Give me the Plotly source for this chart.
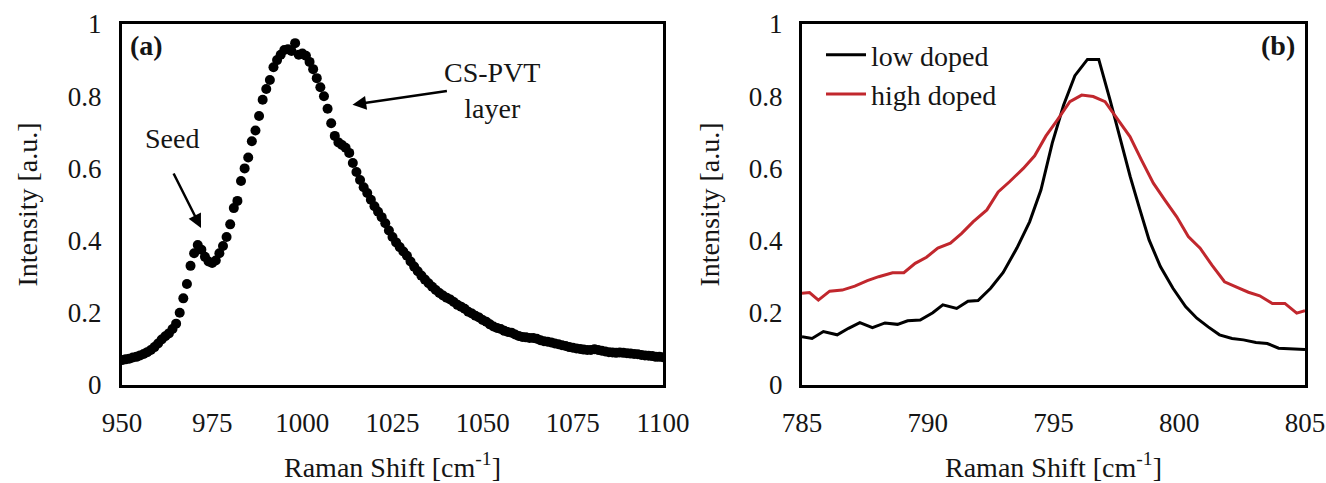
import plotly.graph_objects as go

# ---------------- data: panel (a) ----------------
shift_a = list(range(950, 1101))
intensity_a = [
    0.069, 0.071, 0.073, 0.076, 0.078, 0.082, 0.086, 0.091, 0.097, 0.105,
    0.115, 0.126, 0.135, 0.143, 0.155, 0.170, 0.200, 0.240, 0.280, 0.330,
    0.365, 0.388, 0.375, 0.355, 0.342, 0.338, 0.345, 0.365, 0.385, 0.410,
    0.445, 0.490, 0.510, 0.565, 0.600, 0.630, 0.675, 0.705, 0.745, 0.790,
    0.820, 0.845, 0.880, 0.900, 0.915, 0.928, 0.930, 0.925, 0.947, 0.915,
    0.918, 0.912, 0.895, 0.875, 0.850, 0.825, 0.800, 0.765, 0.725, 0.690,
    0.672, 0.665, 0.657, 0.643, 0.615, 0.590, 0.568, 0.548, 0.532, 0.513,
    0.495, 0.480, 0.465, 0.448, 0.428, 0.410, 0.395, 0.382, 0.370, 0.358,
    0.342, 0.328, 0.315, 0.303, 0.292, 0.282, 0.272, 0.263, 0.255, 0.248,
    0.242, 0.237, 0.230, 0.222, 0.217, 0.211, 0.203, 0.198, 0.192, 0.187,
    0.180, 0.175, 0.168, 0.162, 0.158, 0.155, 0.150, 0.147, 0.145, 0.140,
    0.136, 0.133, 0.132, 0.130, 0.130, 0.128, 0.124, 0.121, 0.120, 0.118,
    0.115, 0.113, 0.110, 0.108, 0.105, 0.103, 0.101, 0.100, 0.098, 0.097,
    0.097, 0.099, 0.097, 0.095, 0.093, 0.091, 0.090, 0.089, 0.090, 0.089,
    0.088, 0.087, 0.086, 0.085, 0.083, 0.082, 0.081, 0.080, 0.078, 0.078,
    0.077,
]

# ---------------- data: panel (b) ----------------
shift_low = [785.0, 785.4, 785.85, 786.4, 786.85, 787.3, 787.8, 788.3, 788.8, 789.2,
             789.7, 790.2, 790.6, 791.15, 791.6, 792.0, 792.5, 793.0, 793.55, 794.05,
             794.5, 794.95, 795.4, 795.85, 796.35, 796.8, 797.25, 797.65, 798.05, 798.4,
             798.8, 799.25, 799.75, 800.25, 800.7, 801.15, 801.6, 802.1, 802.55, 803.05,
             803.5, 803.95, 804.4, 805.0]
low_doped = [0.134, 0.129, 0.148, 0.139, 0.157, 0.173, 0.159, 0.172, 0.168, 0.178,
             0.180, 0.200, 0.222, 0.212, 0.232, 0.234, 0.268, 0.312, 0.380, 0.452,
             0.540, 0.670, 0.775, 0.857, 0.902, 0.902, 0.789, 0.679, 0.577, 0.494,
             0.402, 0.328, 0.268, 0.217, 0.185, 0.161, 0.139, 0.129, 0.125, 0.118,
             0.115, 0.102, 0.100, 0.098]

shift_high = [785.0, 785.3, 785.65, 786.1, 786.6, 787.1, 787.6, 788.05, 788.6, 789.05,
              789.5, 789.95, 790.4, 790.9, 791.35, 791.8, 792.35, 792.8, 793.25, 793.8,
              794.25, 794.7, 795.15, 795.65, 796.12, 796.58, 797.05, 797.58, 798.04, 798.5,
              798.97, 799.43, 799.9, 800.36, 800.83, 801.3, 801.8, 802.28, 802.75, 803.2,
              803.7, 804.2, 804.67, 805.0]
high_doped = [0.254, 0.256, 0.235, 0.260, 0.263, 0.274, 0.289, 0.300, 0.311, 0.311,
              0.337, 0.354, 0.379, 0.393, 0.420, 0.452, 0.485, 0.535, 0.563, 0.600,
              0.635, 0.690, 0.734, 0.785, 0.803, 0.799, 0.785, 0.734, 0.688, 0.623,
              0.559, 0.512, 0.466, 0.411, 0.379, 0.332, 0.286, 0.271, 0.257, 0.247,
              0.226, 0.226, 0.199, 0.206]

FONT = "Liberation Serif"
TXT = "#151515"
FS = 27
W, H = 1326, 483

fig = go.Figure()
fig.add_trace(go.Scatter(x=shift_a, y=intensity_a, mode="markers",
                         marker=dict(color="black", size=10),
                         showlegend=False, xaxis="x", yaxis="y"))
fig.add_trace(go.Scatter(x=shift_low, y=low_doped, mode="lines", name="low doped",
                         line=dict(color="black", width=3), xaxis="x2", yaxis="y2"))
fig.add_trace(go.Scatter(x=shift_high, y=high_doped, mode="lines", name="high doped",
                         line=dict(color="#C1272D", width=3), xaxis="x2", yaxis="y2"))

ydom = [1 - 385 / H, 1 - 24 / H]
axis_common = dict(showline=True, linecolor="black", linewidth=3, mirror=True,
                   showgrid=False, zeroline=False, ticks="", automargin=False,
                   tickfont=dict(family=FONT, size=FS, color=TXT))
title_font = dict(family=FONT, size=28, color=TXT)

fig.update_layout(
    width=W, height=H,
    margin=dict(l=0, r=0, t=0, b=0),
    paper_bgcolor="white", plot_bgcolor="white",
    font=dict(family=FONT, size=FS, color=TXT),
    xaxis=dict(domain=[122 / W, 663 / W], range=[950, 1100], dtick=25, tick0=950,
               ticklabelstandoff=12,
               title=dict(text="Raman Shift [cm<sup>-1</sup>]", standoff=20, font=title_font),
               anchor="y", **axis_common),
    yaxis=dict(domain=ydom, range=[0, 1], dtick=0.2, ticklabelstandoff=12,
               title=dict(text="Intensity [a.u.]", standoff=23, font=title_font),
               anchor="x", **axis_common),
    xaxis2=dict(domain=[802 / W, 1305 / W], range=[785, 805], dtick=5, tick0=785,
                ticklabelstandoff=12,
                title=dict(text="Raman Shift [cm<sup>-1</sup>]", standoff=20, font=title_font),
                anchor="y2", **axis_common),
    yaxis2=dict(domain=ydom, range=[0, 1], dtick=0.2, ticklabelstandoff=11,
                title=dict(text="Intensity [a.u.]", standoff=22, font=title_font),
                anchor="x2", **axis_common),
    legend=dict(x=821 / W, y=1 - 30 / H, xanchor="left", yanchor="top",
                bgcolor="rgba(0,0,0,0)", font=dict(family=FONT, size=28, color=TXT),
                itemwidth=40, tracegroupgap=0),
    showlegend=True,
)

ann_font = dict(family=FONT, size=28, color=TXT)
fig.add_annotation(x=0.012, y=0.99, xref="x domain", yref="y domain",
                   text="<b>(a)</b>", showarrow=False, xanchor="left", yanchor="top",
                   font=ann_font)
fig.add_annotation(x=0.985, y=0.99, xref="x2 domain", yref="y2 domain",
                   text="<b>(b)</b>", showarrow=False, xanchor="right", yanchor="top",
                   font=ann_font)
fig.add_annotation(x=963.8, y=0.684, xref="x", yref="y", text="Seed",
                   showarrow=False, font=ann_font)
fig.add_annotation(x=971.9, y=0.435, ax=964.1, ay=0.59, xref="x", yref="y",
                   axref="x", ayref="y", text="", showarrow=True,
                   arrowhead=2, arrowsize=1.1, arrowwidth=2.5, arrowcolor="black")
fig.add_annotation(x=1052.5, y=0.817, xref="x", yref="y", text="CS-PVT<br>layer",
                   showarrow=False, font=ann_font)
fig.add_annotation(x=1013.9, y=0.776, ax=1040.5, ay=0.815, xref="x", yref="y",
                   axref="x", ayref="y", text="", showarrow=True,
                   arrowhead=2, arrowsize=1.1, arrowwidth=2.5, arrowcolor="black")

fig.write_html("out.html", config={"displayModeBar": False},
               post_script="document.body.style.margin='0px';document.body.style.overflow='hidden';")
